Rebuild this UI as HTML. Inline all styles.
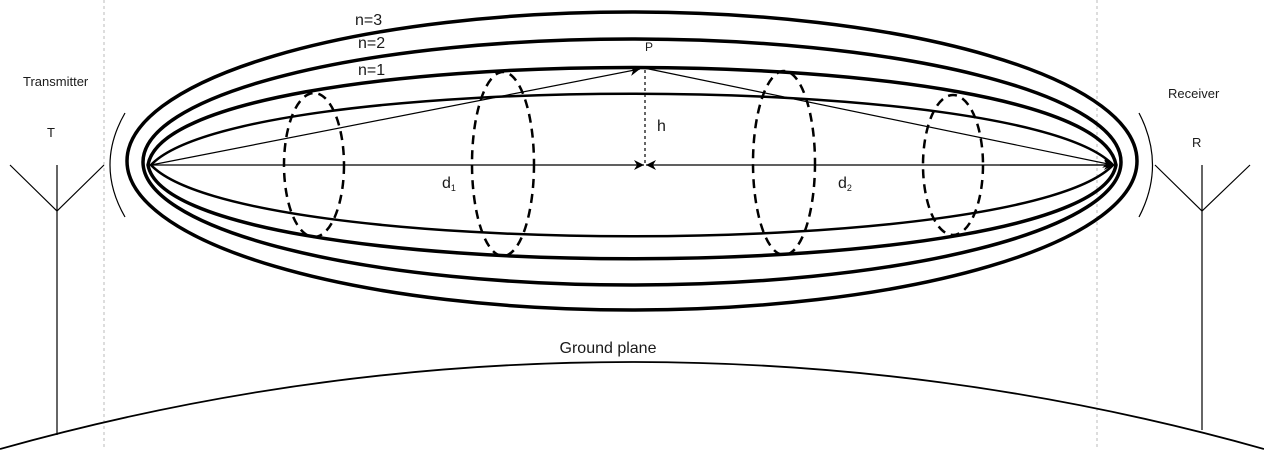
<!DOCTYPE html>
<html><head><meta charset="utf-8"><style>
html,body{margin:0;padding:0;background:#fff;}
svg{display:block;}
text{font-family:"Liberation Sans",Arial,sans-serif;fill:#1a1a1a;}
</style></head><body>
<svg width="1264" height="450" viewBox="0 0 1264 450" xmlns="http://www.w3.org/2000/svg">
<defs>
<marker id="ah" viewBox="0 0 10 10" refX="10" refY="5" markerWidth="10" markerHeight="10" markerUnits="userSpaceOnUse" orient="auto"><path d="M0,0 L10,5 L0,10 L3,5 Z" fill="#000"/></marker>
</defs>
<line x1="104" y1="0" x2="104" y2="450" stroke="#bbb" stroke-dasharray="3,3"/>
<line x1="1097" y1="0" x2="1097" y2="450" stroke="#bbb" stroke-dasharray="3,3"/>
<ellipse cx="632" cy="161" rx="505" ry="149" fill="none" stroke="#000" stroke-width="3.5"/>
<ellipse cx="632" cy="162" rx="489" ry="123" fill="none" stroke="#000" stroke-width="3.5"/>
<path d="M148,165 C170,35 1094,35 1116,165 C1094,290 170,290 148,165 Z" fill="none" stroke="#000" stroke-width="3.5"/>
<path d="M151,165 C240,70 1024,70 1113,165 C1024,260 240,260 151,165 Z" fill="none" stroke="#000" stroke-width="2.5"/>
<ellipse cx="314" cy="165" rx="30" ry="72" fill="none" stroke="#000" stroke-width="2.5" stroke-dasharray="9,6"/>
<ellipse cx="503" cy="164" rx="31" ry="92" fill="none" stroke="#000" stroke-width="2.5" stroke-dasharray="9,6"/>
<ellipse cx="784" cy="163" rx="31" ry="92" fill="none" stroke="#000" stroke-width="2.5" stroke-dasharray="9,6"/>
<ellipse cx="953" cy="165" rx="30" ry="70" fill="none" stroke="#000" stroke-width="2.5" stroke-dasharray="9,6"/>
<line x1="151" y1="165" x2="640" y2="69" stroke="#000" stroke-width="1.2" marker-end="url(#ah)"/>
<line x1="644" y1="68" x2="1113" y2="165" stroke="#000" stroke-width="1.2" marker-end="url(#ah)"/>
<line x1="645" y1="70" x2="645" y2="165" stroke="#000" stroke-width="1.2" stroke-dasharray="3,3"/>
<line x1="151" y1="165" x2="644" y2="165" stroke="#000" stroke-width="1.2" marker-end="url(#ah)"/>
<line x1="1113" y1="165" x2="646" y2="165" stroke="#000" stroke-width="1.2" marker-end="url(#ah)"/>
<line x1="1000" y1="165" x2="1114" y2="165" stroke="#000" stroke-width="1.2" marker-end="url(#ah)"/>
<text x="355" y="25" font-size="16">n=3</text>
<text x="358" y="48" font-size="16">n=2</text>
<text x="358" y="75" font-size="16">n=1</text>
<text x="645" y="51" font-size="12">P</text>
<text x="657" y="131" font-size="16">h</text>
<text x="442" y="188" font-size="16">d<tspan font-size="9" dy="3">1</tspan></text>
<text x="838" y="188" font-size="16">d<tspan font-size="9" dy="3">2</tspan></text>
<text x="23" y="86" font-size="13">Transmitter</text>
<text x="47" y="137" font-size="13">T</text>
<text x="1168" y="98" font-size="13">Receiver</text>
<text x="1192" y="147" font-size="13">R</text>
<text x="608" y="353" font-size="16" text-anchor="middle">Ground plane</text>
<g stroke="#000" stroke-width="1.2" fill="none">
<path d="M10,165 L57,211 L104,165"/>
<line x1="57" y1="165" x2="57" y2="435"/>
<path d="M125,113 Q95,165 125,217"/>
</g>
<g stroke="#000" stroke-width="1.2" fill="none">
<path d="M1155,165 L1202,211 L1250,165"/>
<line x1="1202" y1="165" x2="1202" y2="430"/>
<path d="M1139,113 Q1166,165 1139,217"/>
</g>
<path d="M0,449 A2339,2339 0 0 1 1264,449" fill="none" stroke="#000" stroke-width="1.8"/>
</svg>
</body></html>
